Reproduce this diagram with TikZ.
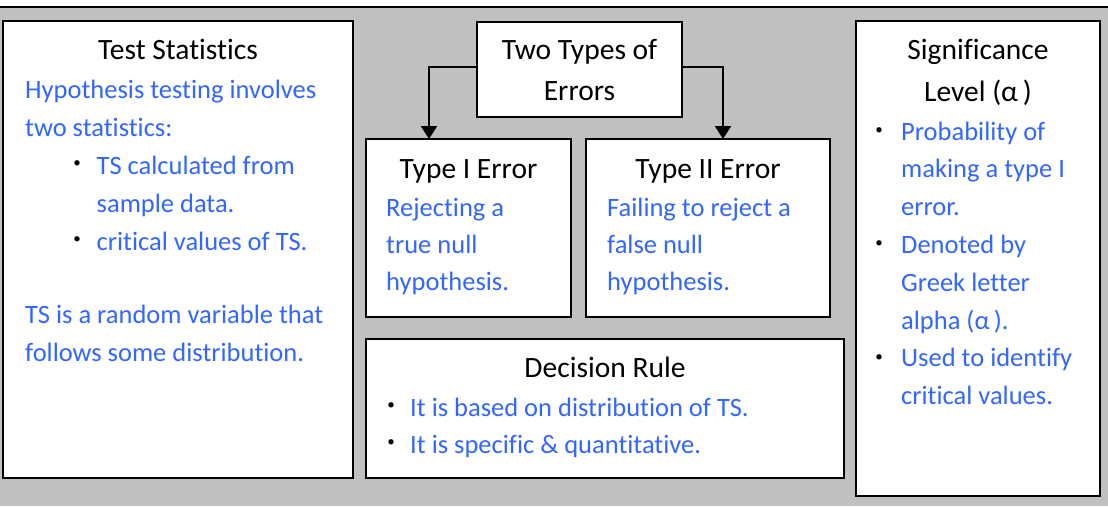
\documentclass[tikz,border=0pt]{standalone}
\usepackage{fontspec}
\setmainfont{Carlito}[Ligatures=NoCommon]
\usetikzlibrary{arrows.meta}
\definecolor{txtblue}{RGB}{51,102,255}
\definecolor{bggray}{RGB}{192,192,192}
\begin{document}
\begin{tikzpicture}[x=1pt,y=-1pt,
  font=\fontsize{26.5}{38}\selectfont,
  box/.style={draw=black,line width=2pt,fill=white,rectangle,inner sep=0pt,outer sep=0pt,anchor=north west},
  ttl/.style={anchor=base,inner sep=0pt,text=black,font=\fontsize{29.5}{38}\selectfont},
  body/.style={anchor=base west,inner sep=0pt,text=txtblue},
  bul/.style={anchor=center,inner sep=0pt,text=black,font=\fontsize{15}{15}\selectfont},
  conn/.style={line width=2pt,-{Triangle[width=16pt,length=13pt]}}]
\useasboundingbox (0,0) rectangle (1108,506);
\fill[bggray] (0,7) rectangle (1108,506);
\draw[line width=1.5pt] (0,7) -- (1108,7);
% boxes
\node[box,minimum width=350pt,minimum height=457pt] (ts) at (3,21) {};
\node[box,minimum width=205pt,minimum height=95pt] (two) at (477,22) {};
\node[box,minimum width=205pt,minimum height=178pt] (t1) at (366,139) {};
\node[box,minimum width=244pt,minimum height=178pt] (t2) at (586,139) {};
\node[box,minimum width=478pt,minimum height=139pt] (dr) at (366,339) {};
\node[box,minimum width=244pt,minimum height=475pt] (sig) at (856,21) {};
% connectors
\draw[conn] ([yshift=2.5pt]two.west) -| ([xshift=-39.5pt]t1.north);
\draw[conn] ([yshift=2.5pt]two.east) -| ([xshift=15pt]t2.north);
% Test Statistics
\node[ttl] (tsT) at (178,59) {Test Statistics};
\node[body] (ts1) at (25,98) {Hypothesis testing involves};
\node[body] (ts2) at (25,136) {two statistics:};
\node[bul] (tsb1) at (77,164) {•};
\node[body] (ts3) at (96.5,174) {TS calculated from};
\node[body] (ts4) at (96.5,212) {sample data.};
\node[bul] (tsb2) at (77,240) {•};
\node[body] (ts5) at (96.5,250) {critical values of TS.};
\node[body] (ts6) at (25,323) {TS is a random variable that};
\node[body] (ts7) at (25,361) {follows some distribution.};
% Two types
\node[ttl] (twoT1) at (579.5,59.3) {Two Types of};
\node[ttl] (twoT2) at (579.5,100.7) {Errors};
% Type I
\node[ttl] (t1T) at (468.5,178) {Type I Error};
\node[body] (t1a) at (386,216) {Rejecting a};
\node[body] (t1b) at (386,253) {true null};
\node[body] (t1c) at (386,290) {hypothesis.};
% Type II
\node[ttl] (t2T) at (708,178) {Type II Error};
\node[body] (t2a) at (607,216) {Failing to reject a};
\node[body] (t2b) at (607,253) {false null};
\node[body] (t2c) at (607,290) {hypothesis.};
% Decision rule
\node[ttl] (drT) at (605,377) {Decision Rule};
\node[bul] (drb1) at (391,406.5) {•};
\node[body] (dr1) at (410,416) {It is based on distribution of TS.};
\node[bul] (drb2) at (391,443.5) {•};
\node[body] (dr2) at (410,453) {It is specific \& quantitative.};
% Significance
\node[ttl] (sigT1) at (978,59.3) {Significance};
\node[ttl] (sigT2) at (978,101.7) {Level (α\,)};
\node[bul] (sgb1) at (879,130.7) {•};
\node[body] (sg1) at (901,140) {Probability of};
\node[body] (sg2) at (901,177.8) {making a type I};
\node[body] (sg3) at (901,215.6) {error.};
\node[bul] (sgb2) at (879,244.5) {•};
\node[body] (sg4) at (901,253.4) {Denoted by};
\node[body] (sg5) at (901,291.2) {Greek letter};
\node[body] (sg6) at (901,329) {alpha (α\,).};
\node[bul] (sgb3) at (879,358) {•};
\node[body] (sg7) at (901,366.8) {Used to identify};
\node[body] (sg8) at (901,404.6) {critical values.};
\end{tikzpicture}
\end{document}
